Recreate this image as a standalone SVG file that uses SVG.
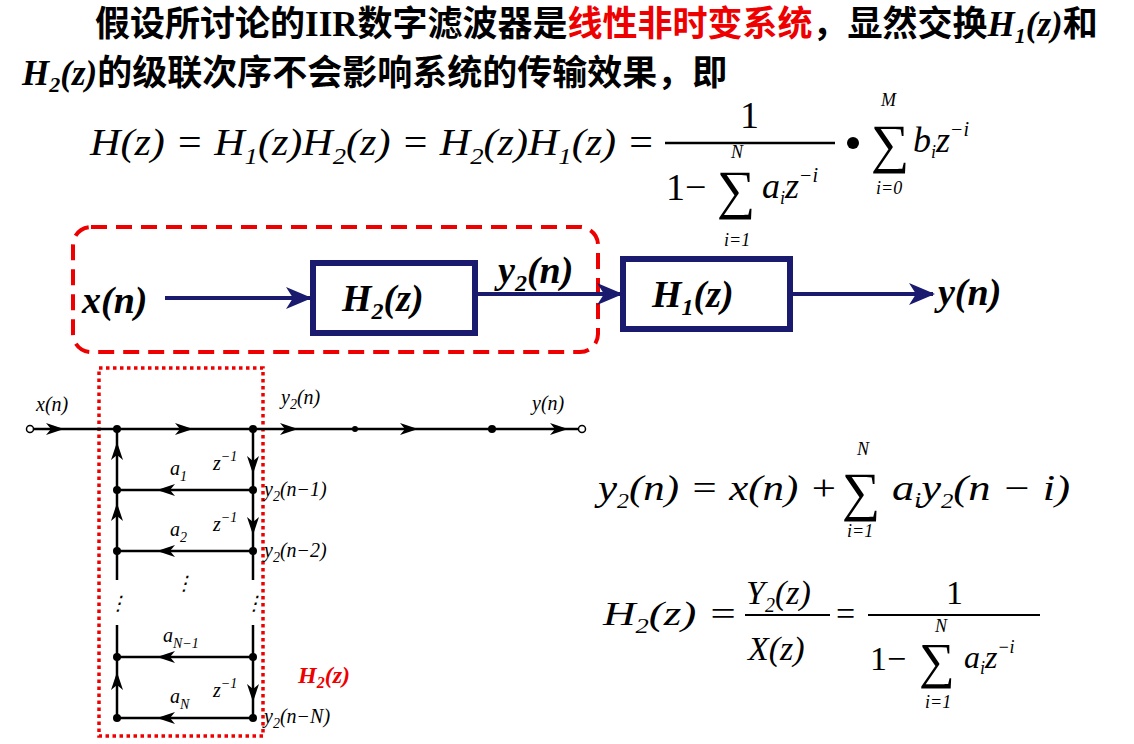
<svg xmlns="http://www.w3.org/2000/svg" width="1134" height="744" viewBox="0 0 1134 744">
<style>
.cn{font-family:"Noto Sans CJK SC","Liberation Serif",serif;font-size:35px;font-weight:bold;fill:#000}
.m{font-family:"Liberation Serif",serif;font-style:italic;fill:#000}
.r{font-family:"Liberation Serif",serif;fill:#000}
.bi{font-family:"Liberation Serif",serif;font-style:italic;font-weight:bold}
.sl{stroke:#000;stroke-width:2.5;fill:none}
.blk{fill:none;stroke:#1a1a6e;stroke-width:6}
.nav{stroke:#1a1a6e;stroke-width:4;fill:none}
.lb{font-family:"Liberation Serif",serif;font-style:italic;font-size:20px;fill:#000}
</style>
<defs>
<marker id="ba" markerWidth="26" markerHeight="22" refX="24" refY="11" orient="auto" markerUnits="userSpaceOnUse" viewBox="0 0 26 22"><path d="M0,0 L26,11 L0,22 L7,11 Z" fill="#1a1a6e"/></marker>
<path id="ar" d="M-10,-6 L8,0 L-10,6 L-5,0 Z" fill="#000"/>
</defs>
<rect width="1134" height="744" fill="#fff"/>
<text x="95" y="36" class="cn">假设所讨论的<tspan class="r" style="font-weight:bold">IIR</tspan>数字滤波器是<tspan fill="#e00">线性非时变系统</tspan>，显然交换<tspan class="bi">H<tspan font-size="22" dy="7">1</tspan><tspan dy="-7">(z)</tspan></tspan>和</text>
<text x="22" y="85" class="cn"><tspan class="bi">H<tspan font-size="22" dy="7">2</tspan><tspan dy="-7">(z)</tspan></tspan>的级联次序不会影响系统的传输效果，即</text>
<text x="90" y="155" class="m" font-size="38" textLength="565" lengthAdjust="spacingAndGlyphs">H(z) = H<tspan font-size="24" dy="9">1</tspan><tspan dy="-9">(z)H</tspan><tspan font-size="24" dy="9">2</tspan><tspan dy="-9">(z) = H</tspan><tspan font-size="24" dy="9">2</tspan><tspan dy="-9">(z)H</tspan><tspan font-size="24" dy="9">1</tspan><tspan dy="-9">(z) =</tspan></text>
<line x1="665" y1="143" x2="835" y2="143" stroke="#000" stroke-width="2.5"/>
<text x="740" y="128" class="r" font-size="38">1</text>
<text x="666" y="200" class="r" font-size="38">1−</text>
<text x="717" y="208" class="r" font-size="54">∑</text>
<text x="731" y="158" class="m" font-size="18">N</text>
<text x="724" y="246" class="m" font-size="18">i=1</text>
<text x="762" y="198" class="m" font-size="36">a<tspan font-size="18" dy="6">i</tspan><tspan dy="-6">z</tspan><tspan font-size="20" dy="-16">−i</tspan></text>
<circle cx="853" cy="143" r="6" fill="#000"/>
<text x="871" y="162" class="r" font-size="54">∑</text>
<text x="881" y="106" class="m" font-size="18">M</text>
<text x="876" y="194" class="m" font-size="18">i=0</text>
<text x="913" y="152" class="m" font-size="36">b<tspan font-size="18" dy="6">i</tspan><tspan dy="-6">z</tspan><tspan font-size="20" dy="-16">−i</tspan></text>
<rect x="73" y="227" width="525" height="125" rx="18" fill="none" stroke="#e00" stroke-width="4" stroke-dasharray="16,9"/>
<g id="n-xn"><text x="82" y="313" class="bi" font-size="38">x(n)</text></g>
<g id="n-h2"><rect x="313" y="263" width="162" height="70" class="blk"/><text x="342" y="311" class="bi" font-size="38">H<tspan font-size="24" dy="8">2</tspan><tspan dy="-8">(z)</tspan></text></g>
<g id="n-h1"><rect x="623" y="259" width="167" height="70" class="blk"/><text x="652" y="307" class="bi" font-size="38">H<tspan font-size="24" dy="8">1</tspan><tspan dy="-8">(z)</tspan></text></g>
<g id="n-yn"><text x="938" y="305" class="bi" font-size="38">y(n)</text></g>
<text x="498" y="283" class="bi" font-size="38">y<tspan font-size="24" dy="8">2</tspan><tspan dy="-8">(n)</tspan></text>
<g id="connectors">
<line x1="165" y1="298" x2="310" y2="298" class="nav" marker-end="url(#ba)"/>
<line x1="478" y1="294" x2="621" y2="294" class="nav" marker-end="url(#ba)"/>
<line x1="793" y1="294" x2="933" y2="294" class="nav" marker-end="url(#ba)"/>
</g>
<rect x="99" y="368" width="164" height="368" fill="none" stroke="#e00" stroke-width="3.5" stroke-dasharray="3.5,3.5"/>
<g class="sl">
<line x1="33" y1="429" x2="579" y2="429"/>
<line x1="117" y1="429" x2="117" y2="580"/><line x1="117" y1="625" x2="117" y2="718"/>
<line x1="253" y1="429" x2="253" y2="580"/><line x1="253" y1="625" x2="253" y2="718"/>
<line x1="117" y1="490" x2="253" y2="490"/><line x1="117" y1="551" x2="253" y2="551"/>
<line x1="117" y1="657" x2="253" y2="657"/><line x1="117" y1="718" x2="253" y2="718"/>
</g>
<g fill="#000">
<circle cx="30" cy="429" r="3.5" fill="#fff" stroke="#000" stroke-width="1.5"/>
<circle cx="582" cy="429" r="3.5" fill="#fff" stroke="#000" stroke-width="1.5"/>
<circle cx="117" cy="429" r="4"/><circle cx="253" cy="429" r="4"/><circle cx="355" cy="429" r="3"/><circle cx="492" cy="429" r="4"/>
<circle cx="117" cy="490" r="4"/><circle cx="253" cy="490" r="4"/><circle cx="117" cy="551" r="4"/><circle cx="253" cy="551" r="4"/>
<circle cx="117" cy="657" r="4"/><circle cx="253" cy="657" r="4"/><circle cx="117" cy="718" r="4"/><circle cx="253" cy="718" r="4"/>
</g>
<use href="#ar" x="56" y="429"/><use href="#ar" x="185" y="429"/><use href="#ar" x="290" y="429"/>
<use href="#ar" x="410" y="429"/><use href="#ar" x="560" y="429"/>
<use href="#ar" transform="translate(165,490) rotate(180)"/>
<use href="#ar" transform="translate(165,551) rotate(180)"/>
<use href="#ar" transform="translate(165,657) rotate(180)"/>
<use href="#ar" transform="translate(165,718) rotate(180)"/>
<use href="#ar" transform="translate(117,450) rotate(-90)"/>
<use href="#ar" transform="translate(117,511) rotate(-90)"/>
<use href="#ar" transform="translate(117,680) rotate(-90)"/>
<use href="#ar" transform="translate(253,466) rotate(90)"/>
<use href="#ar" transform="translate(253,527) rotate(90)"/>
<use href="#ar" transform="translate(253,694) rotate(90)"/>
<g class="lb">
<text x="36" y="411">x(n)</text>
<text x="281" y="404">y<tspan font-size="14" dy="5">2</tspan><tspan dy="-5">(n)</tspan></text>
<text x="532" y="410">y(n)</text>
<text x="213" y="470">z<tspan font-size="14" dy="-9">−1</tspan></text>
<text x="213" y="531">z<tspan font-size="14" dy="-9">−1</tspan></text>
<text x="213" y="697">z<tspan font-size="14" dy="-9">−1</tspan></text>
<text x="170" y="475">a<tspan font-size="14" dy="6">1</tspan></text>
<text x="170" y="536">a<tspan font-size="14" dy="6">2</tspan></text>
<text x="163" y="642">a<tspan font-size="14" dy="6">N−1</tspan></text>
<text x="170" y="703">a<tspan font-size="14" dy="6">N</tspan></text>
<text x="264" y="496">y<tspan font-size="14" dy="5">2</tspan><tspan dy="-5">(n−1)</tspan></text>
<text x="264" y="557">y<tspan font-size="14" dy="5">2</tspan><tspan dy="-5">(n−2)</tspan></text>
<text x="264" y="723">y<tspan font-size="14" dy="5">2</tspan><tspan dy="-5">(n−N)</tspan></text>
<text x="174" y="590">⋮</text><text x="108" y="610">⋮</text><text x="244" y="610">⋮</text>
</g>
<text x="298" y="683" class="bi" font-size="24" fill="#e00">H<tspan font-size="16" dy="5">2</tspan><tspan dy="-5">(z)</tspan></text>
<text x="598" y="500" class="m" font-size="36" textLength="240" lengthAdjust="spacingAndGlyphs">y<tspan font-size="20" dy="8">2</tspan><tspan dy="-8">(n) = x(n) +</tspan></text>
<text x="842" y="510" class="r" font-size="54">∑</text>
<text x="857" y="455" class="m" font-size="18">N</text>
<text x="847" y="537" class="m" font-size="18">i=1</text>
<text x="892" y="500" class="m" font-size="36" textLength="178" lengthAdjust="spacingAndGlyphs">a<tspan font-size="20" dy="7">i</tspan><tspan dy="-7">y</tspan><tspan font-size="20" dy="8">2</tspan><tspan dy="-8">(n − i)</tspan></text>
<text x="603" y="625" class="m" font-size="34" textLength="135" lengthAdjust="spacingAndGlyphs">H<tspan font-size="20" dy="8">2</tspan><tspan dy="-8">(z) =</tspan></text>
<line x1="745" y1="615" x2="830" y2="615" stroke="#000" stroke-width="2"/>
<text x="746" y="604" class="m" font-size="34">Y<tspan font-size="20" dy="8">2</tspan><tspan dy="-8">(z)</tspan></text>
<text x="748" y="660" class="m" font-size="34">X(z)</text>
<text x="836" y="625" class="r" font-size="34">=</text>
<line x1="868" y1="615" x2="1040" y2="615" stroke="#000" stroke-width="2"/>
<text x="946" y="604" class="r" font-size="34">1</text>
<text x="870" y="670" class="r" font-size="34">1−</text>
<text x="919" y="678" class="r" font-size="50">∑</text>
<text x="935" y="632" class="m" font-size="18">N</text>
<text x="925" y="708" class="m" font-size="18">i=1</text>
<text x="964" y="668" class="m" font-size="32">a<tspan font-size="18" dy="6">i</tspan><tspan dy="-6">z</tspan><tspan font-size="18" dy="-15">−i</tspan></text>
</svg>
